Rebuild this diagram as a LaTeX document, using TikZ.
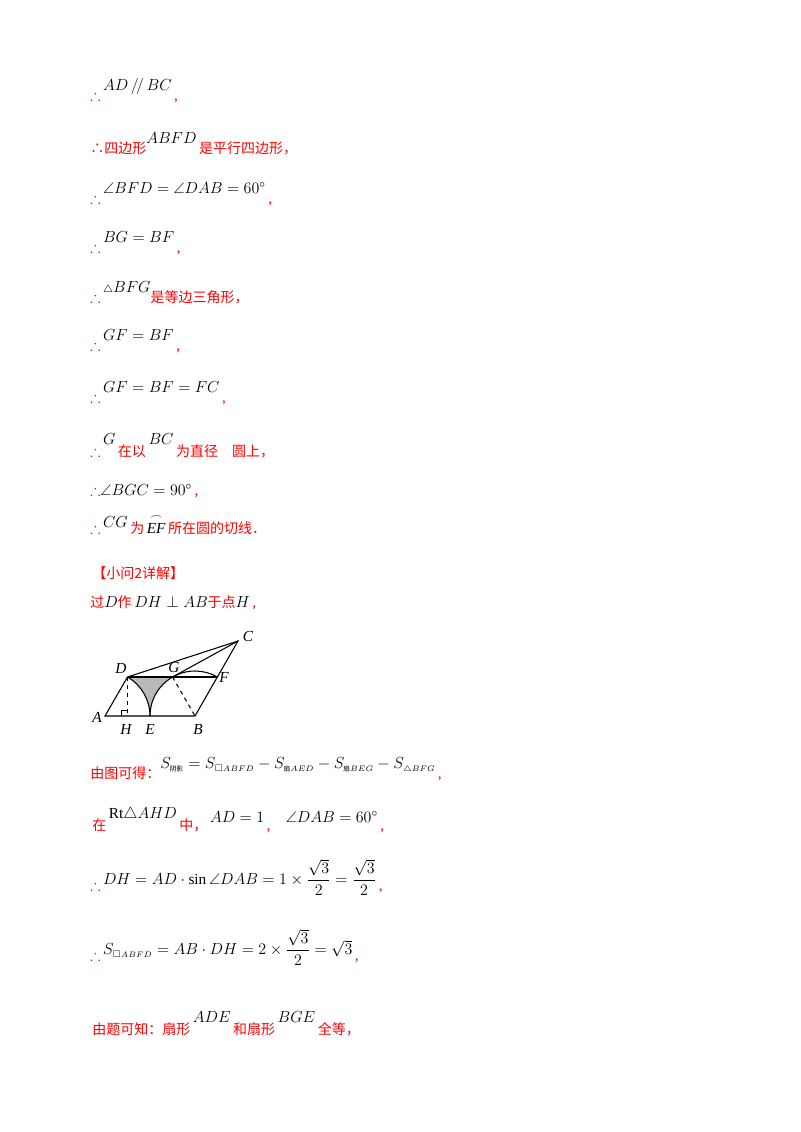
\documentclass[tikz,border=0pt]{standalone}
\usepackage{amsmath,amssymb}
\usepackage{fontspec}
\usetikzlibrary{calc}
\setmainfont{Liberation Serif}
\newfontfamily\cjk{Noto Sans CJK SC}
\newcommand\rd[1]{\textcolor{red}{\fontsize{10.5}{12}\selectfont\cjk #1}}
\newcommand\mr[1]{\raisebox{7pt}{$#1$}}
\newcommand\tf{\textcolor{red}{$\therefore$}}
\begin{document}
\begin{tikzpicture}[x=0.75pt,y=-0.75pt,
  ln/.style={anchor=base west,inner sep=0pt,font=\fontsize{11.5}{13}\selectfont},
  pt/.style={inner sep=0pt,font=\fontsize{11.5}{12}\selectfont\itshape},
  fig/.style={line width=0.8pt}]
\useasboundingbox[fill=white] (0,0) rectangle (800,1132);
\node[ln] (l1) at (90,100) {\tf\,\mr{AD\,/\!/\,BC}\,\textcolor{red}{,}};
\node[ln] (l2) at (90,153) {\rd{∴四边形}\mr{ABFD}\,\rd{是平行四边形，}};
\node[ln] (l3) at (90,203) {\tf\,\mr{\angle BFD=\angle DAB=60^\circ}\,\textcolor{red}{,}};
\node[ln] (l4) at (90,252) {\tf\,\mr{BG=BF}\,\textcolor{red}{,}};
\node[ln] (l5) at (90,302) {\tf\,\mr{{\scriptstyle\triangle}BFG}\rd{是等边三角形，}};
\node[ln] (l6) at (90,350) {\tf\,\mr{GF=BF}\,\textcolor{red}{,}};
\node[ln] (l7) at (90,402) {\tf\,\mr{GF=BF=FC}\,\textcolor{red}{,}};
\node[ln] (l8) at (90,456) {\tf\,\raisebox{9pt}{$G$}\,\rd{在以}\,\raisebox{9pt}{$BC$}\,\rd{为直径\quad 圆上，}};
\node[ln] (l9) at (90,495) {\tf$\angle BGC=90^\circ$\,\textcolor{red}{,}};
\node[ln] (l10) at (90,533) {\tf\,\raisebox{4pt}{$CG$}\,\rd{为}\,$\overset{\frown}{\mathsf{\mathit{EF}}}$\,\rd{所在圆的切线．}};
\node[ln] (l11) at (92,578) {\rd{【小问2详解】}};
\node[ln] (l12) at (90,607) {\rd{过}$D$\rd{作}\,$DH\perp AB$\rd{于点}$H$\,\textcolor{red}{,}};
% figure
\coordinate (A) at (105,716);
\coordinate (D) at (127.5,677);
\coordinate (E) at (150,716);
\coordinate (B) at (195,716);
\coordinate (G) at (172.5,677);
\coordinate (F) at (217.5,677);
\coordinate (C) at (238,641);
\coordinate (H) at (127.5,716);
\fill[gray!55] (D) arc[start angle=-60,end angle=0,radius=45] arc[start angle=180,end angle=240,radius=45] -- cycle;
\draw[fig] (A) -- (B) -- (C) -- (D) -- cycle;
\draw[fig] (D) -- (F);
\draw[fig] (G) -- (C);
\draw[fig] (D) arc[start angle=-60,end angle=0,radius=45];
\draw[fig] (E) arc[start angle=180,end angle=300,radius=45];
\draw[fig,dashed] (G) -- (B);
\draw[fig,dashed] (D) -- (H);
\draw[line width=0.6pt] ($(H)+(-6,0)$) -- ++(0,-6) -- ++(6,0);
\node[pt] (nA) at (97,717) {A};
\node[pt] (nB) at (198,729) {B};
\node[pt] (nC) at (248,636) {C};
\node[pt] (nD) at (121,668) {D};
\node[pt] (nE) at (150,729) {E};
\node[pt] (nF) at (224,677) {F};
\node[pt] (nG) at (174,667) {G};
\node[pt] (nH) at (126,729) {H};
% lower text
\node[ln] (l13) at (90,778) {\rd{由图可得：}\raisebox{7pt}{$S_{\text{\cjk\tiny 阴影}}=S_{\scriptscriptstyle\square ABFD}-S_{\text{\cjk\tiny 扇}\scriptscriptstyle AED}-S_{\text{\cjk\tiny 扇}\scriptscriptstyle BEG}-S_{\scriptscriptstyle\triangle BFG}$}\,\textcolor{red}{,}};
\node[ln] (l14) at (92,830) {\rd{在}\,\raisebox{9pt}{$\mathrm{Rt}\triangle AHD$}\,\rd{中，}\,\raisebox{6pt}{$AD=1$}\,\textcolor{red}{,}\quad\raisebox{6pt}{$\angle DAB=60^\circ$}\,\textcolor{red}{,}};
\node[ln] (l15) at (90,890) {\tf\,\raisebox{4pt}{$DH=AD\cdot\sin\angle DAB=1\times\dfrac{\sqrt3}{2}=\dfrac{\sqrt3}{2}$}\,\textcolor{red}{,}};
\node[ln] (l16) at (90,960) {\tf\,\raisebox{4pt}{$S_{\scriptscriptstyle\square ABFD}=AB\cdot DH=2\times\dfrac{\sqrt3}{2}=\sqrt3$}\,\textcolor{red}{,}};
\node[ln] (l17) at (92,1034) {\rd{由题可知：扇形}\,\raisebox{9pt}{$ADE$}\,\rd{和扇形}\,\raisebox{9pt}{$BGE$}\,\rd{全等，}};
\end{tikzpicture}
\end{document}
